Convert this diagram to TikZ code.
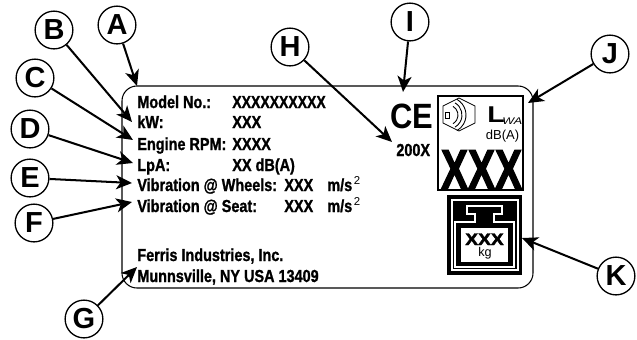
\documentclass[tikz,border=0pt]{standalone}
\usepackage{fontspec}
\setmainfont{Liberation Sans}
\newfontfamily\platefont[FakeStretch=.83, FakeBold=1.2]{Liberation Sans Bold}
\newfontfamily\markfont{Liberation Sans Bold}
\newfontfamily\heavyfont[FakeBold=2.5]{Liberation Sans Bold}
\usetikzlibrary{arrows.meta}
\newcommand{\msq}{m/s\kern1pt\raisebox{.38em}{\normalfont\fontsize{6.5}{7}\selectfont 2}}
\tikzset{
    callout/.style={circle, draw, line width=.75pt, fill=white, minimum size=21.5pt, inner sep=0pt, font=\markfont\fontsize{16.5}{17}\selectfont},
    platetext/.style={anchor=base west, inner sep=0pt, font=\platefont\fontsize{9.9}{11}\selectfont},
    pointer/.style={->, line width=1.15pt, shorten >=0pt}
}
\begin{document}
\begin{tikzpicture}[x=.02cm, y=-.02cm, >={Stealth[length=9pt, width=8pt, inset=2.5pt]}]
\useasboundingbox (0,0) rectangle (637,339);
% plate
\draw[line width=.6pt, rounded corners=8.5pt](122,86) rectangle (533,288);
% left column
\foreach \name/\y/\txt in {model/108/Model No.:, power/128/kW:, rpm/150/Engine RPM:, lpa/171/LpA:, wheels/191/Vibration @ Wheels:, seat/212/Vibration @ Seat:, maker/261/{Ferris Industries, Inc.}, town/282/{Munnsville, NY USA 13409}}
{
    \node[platetext] (\name) at (137,\y) {\txt};
}
\node[platetext] (modelval) at (232,108) {\scalebox{.97}[1]{XXXXXXXXXX}};
\node[platetext] (powerval) at (232,128) {XXX};
\node[platetext] (rpmval) at (232,150) {XXXX};
\node[platetext] (lpaval) at (232,171) {XX dB(A)};
\node[platetext] (wheelsval) at (284,191) {XXX};
\node[platetext] (seatval) at (284,212) {XXX};
\node[platetext] (wheelsunit) at (327,191) {\msq};
\node[platetext] (seatunit) at (327,212) {\msq};
% CE mark and year
\node[anchor=base, inner sep=0pt, font=\markfont\fontsize{20}{20}\selectfont] (ce) at (412,128) {\scalebox{.88}[1]{CE}};
\node[platetext] (year) at (396,156) {200X};
% noise box
\draw[line width=.6pt](438,96) rectangle (523,190);
\draw[line width=.5pt](459,98)--(475,106)--(475,123)--(459,131)--(443,123)--(443,106)--cycle;
\draw[line width=.4pt](445.5,112.5) rectangle (449,118.5);
\foreach \r in {10,14,18}
{
    \draw[line width=.5pt](448,115)++(-60:\r) arc[start angle=-60, end angle=60, radius=\r];
}
\node[anchor=base west, inner sep=0pt, font=\markfont\fontsize{13}{13}\selectfont] (lsym) at (487,122) {\scalebox{1.25}[1]{L}};
\node[anchor=base west, inner sep=0pt, font=\normalfont\itshape\fontsize{5.5}{6}\selectfont] (wa) at (502,124.5) {\scalebox{1.3}[1]{WA}};
\node[anchor=base, inner sep=0pt, font=\normalfont\fontsize{7.4}{8}\selectfont] (dba) at (502.5,139) {dB(A)};
\node[anchor=base, inner sep=0pt, font=\heavyfont\fontsize{32}{32}\selectfont] (noise) at (481.5,189) {\scalebox{.72}[1]{XXX}};
% weight box
\fill(447,195) rectangle (522,275);
\draw[white, line width=.9pt](452,200) rectangle (518,270);
\draw[white, line width=.9pt](467,206)--(502,206)--(502,214)--(494,214)--(494,222)--(514,222)--(514,267)--(455,267)--(455,222)--(475,222)--(475,214)--(467,214)--cycle;
\fill[white](461,228) rectangle (508,262);
\node[anchor=base, inner sep=0pt, font=\heavyfont\fontsize{9.5}{10}\selectfont] (massval) at (484.5,245) {\scalebox{1.15}[1]{XXX}};
\node[anchor=base, inner sep=0pt, font=\normalfont\fontsize{7.2}{8}\selectfont] (massunit) at (485,256.5) {kg};
% callouts
\foreach \name/\x/\y in {A/117/25, B/54/30, C/35/78, D/30/129, E/30/178, F/34/223, G/84/319, H/290/47, I/410/22, J/610/54, K/616/276}
{
    \node[callout] (\name) at (\x,\y) {\name};
}
\foreach \name/\x/\y in {A/137/86, B/132/122, C/133/140, D/133/163, E/132/183, F/132/202, G/137/267, H/392/142, I/403/92, J/528/103, K/522/238}
{
    \coordinate (tip\name) at (\x,\y);
    \draw[pointer](\name)--(tip\name);
}
\end{tikzpicture}
\end{document}
